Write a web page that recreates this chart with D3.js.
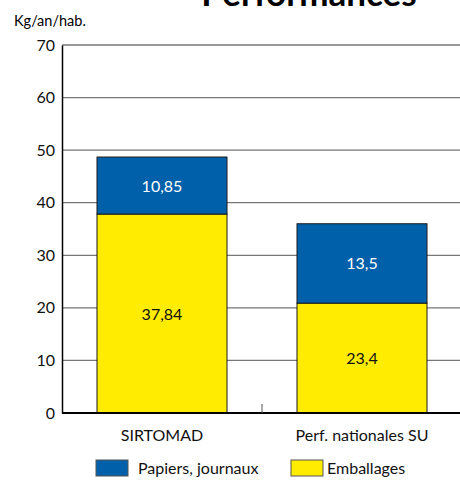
<!DOCTYPE html>
<html>
<head>
<meta charset="utf-8">
<script src="https://d3js.org/d3.v7.min.js"></script>
<style>
  body { margin: 0; background: #fff; }
  text { font-family: Lato, "Open Sans", sans-serif; }
</style>
</head>
<body>
<script>
// data
var categories = ['SIRTOMAD', 'Perf. nationales SU'];
var seriesNames = ['Emballages', 'Papiers, journaux'];
var emballages = [37.84, 20.9];   // drawn heights
var papiers = [10.85, 15.1];
var emballagesLabels = ['37,84', '23,4'];
var papiersLabels = ['10,85', '13,5'];
var yTicks = [0, 10, 20, 30, 40, 50, 60, 70];

var width = 460,
	height = 481;

var svg = d3.select('body')
	.append('svg')
	.attr('width', width)
	.attr('height', height);

// plot area bounds
var plotLeft = 62, plotRight = 460, plotTop = 45, plotBottom = 413;

var x = d3.scaleBand()
	.domain(categories)
	.range([plotLeft, plotLeft + 400])
	.paddingInner(0.35)
	.paddingOuter(0.175);

var y = d3.scaleLinear()
	.domain([0, 70])
	.range([plotBottom, plotTop]);

// title (cut at top)
svg.append('text')
	.attr('x', 309)
	.attr('y', 6)
	.attr('text-anchor', 'middle')
	.attr('font-size', 35)
	.attr('font-weight', 'bold')
	.text('Performances');

svg.append('text')
	.attr('x', 14)
	.attr('y', 26)
	.attr('font-size', 14.5)
	.text('Kg/an/hab.');

// gridlines
svg.append('g')
	.selectAll('line')
	.data(yTicks.filter(function(d) { return d > 0; }))
	.enter().append('line')
	.attr('x1', plotLeft)
	.attr('x2', plotRight)
	.attr('y1', function(d) { return y(d); })
	.attr('y2', function(d) { return y(d); })
	.attr('stroke', '#777')
	.attr('stroke-width', 1.3);

// y axis
var yAxis = svg.append('g')
	.attr('transform', 'translate(' + plotLeft + ',0)')
	.call(d3.axisLeft(y).tickValues(yTicks).tickSize(0).tickPadding(7));
yAxis.select('.domain').attr('stroke', '#000').attr('stroke-width', 1.5);
yAxis.selectAll('text')
	.attr('font-size', 16)
	.attr('fill', '#111')
	.style('font-family', 'Lato, sans-serif');

// stacked bars
var stack = categories.map(function(c, i) {
	return [
		{ y0: 0, y1: emballages[i], color: '#ffec00', label: emballagesLabels[i], textColor: '#111' },
		{ y0: emballages[i], y1: emballages[i] + papiers[i], color: '#0060aa', label: papiersLabels[i], textColor: '#fff' }
	];
});

var groups = svg.append('g')
	.selectAll('g')
	.data(stack)
	.enter().append('g')
	.attr('transform', function(d, i) { return 'translate(' + x(categories[i]) + ',0)'; });

groups.selectAll('rect')
	.data(function(d) { return d; })
	.enter().append('rect')
	.attr('x', 0)
	.attr('width', x.bandwidth())
	.attr('y', function(d) { return y(d.y1); })
	.attr('height', function(d) { return y(d.y0) - y(d.y1); })
	.attr('fill', function(d) { return d.color; })
	.attr('stroke', '#1a1a1a')
	.attr('stroke-width', 1);

groups.selectAll('text')
	.data(function(d) { return d; })
	.enter().append('text')
	.attr('x', x.bandwidth() / 2)
	.attr('y', function(d) { return (y(d.y0) + y(d.y1)) / 2 + 6; })
	.attr('text-anchor', 'middle')
	.attr('font-size', 16)
	.attr('fill', function(d) { return d.textColor; })
	.text(function(d) { return d.label; });

// x axis
svg.append('line')
	.attr('x1', plotLeft)
	.attr('x2', plotRight)
	.attr('y1', plotBottom)
	.attr('y2', plotBottom)
	.attr('stroke', '#000')
	.attr('stroke-width', 2);

var midX = (x(categories[0]) + x.bandwidth() + x(categories[1])) / 2;
svg.append('line')
	.attr('x1', midX)
	.attr('x2', midX)
	.attr('y1', plotBottom)
	.attr('y2', plotBottom - 9)
	.attr('stroke', '#555')
	.attr('stroke-width', 1);

svg.append('g')
	.selectAll('text')
	.data(categories)
	.enter().append('text')
	.attr('x', function(d) { return x(d) + x.bandwidth() / 2; })
	.attr('y', 441)
	.attr('text-anchor', 'middle')
	.attr('font-size', 16)
	.attr('fill', '#111')
	.text(function(d) { return d; });

// legend
var legendItems = [
	{ name: seriesNames[1], color: '#0060aa', x: 96, tx: 138 },
	{ name: seriesNames[0], color: '#ffec00', x: 291, tx: 327 }
];
var legend = svg.append('g')
	.selectAll('g')
	.data(legendItems)
	.enter().append('g');
legend.append('rect')
	.attr('x', function(d) { return d.x; })
	.attr('y', 460)
	.attr('width', 32)
	.attr('height', 16)
	.attr('fill', function(d) { return d.color; })
	.attr('stroke', '#555')
	.attr('stroke-width', 1);
legend.append('text')
	.attr('x', function(d) { return d.tx; })
	.attr('y', 474)
	.attr('font-size', 16)
	.attr('fill', '#111')
	.text(function(d) { return d.name; });
</script>
</body>
</html>
